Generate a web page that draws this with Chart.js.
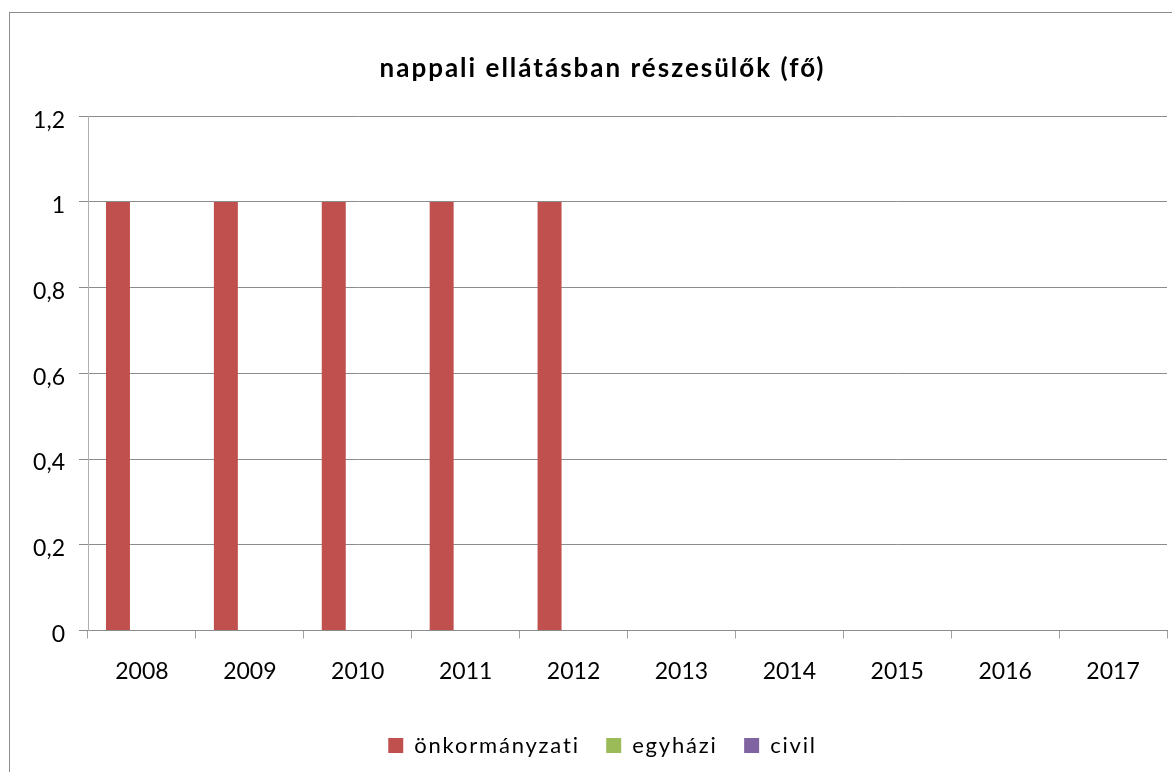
<!DOCTYPE html>
<html lang="hu">
<head>
<meta charset="utf-8">
<title>nappali ellátásban részesülők (fő)</title>
<script src="https://cdn.jsdelivr.net/npm/chart.js@4/dist/chart.umd.min.js"></script>
<style>
  html, body { margin: 0; padding: 0; background: #fff; overflow: hidden; }
  #wrap { position: relative; width: 1172px; height: 772px; }
</style>
</head>
<body>
<div id="wrap"><canvas id="chart"></canvas></div>
<script>
// évek és ellátotti létszámok fenntartó szerint
const years = ["2008", "2009", "2010", "2011", "2012", "2013", "2014", "2015", "2016", "2017"];
const onkormanyzati = [1, 1, 1, 1, 1, 0, 0, 0, 0, 0];
const egyhazi = [0, 0, 0, 0, 0, 0, 0, 0, 0, 0];
const civil = [0, 0, 0, 0, 0, 0, 0, 0, 0, 0];
const yTicks = [0, 0.2, 0.4, 0.6, 0.8, 1, 1.2];

const FONT = "Lato, Calibri, 'DejaVu Sans', sans-serif";

// keret a diagram körül
const frame = {
  id: "frame",
  beforeDraw(chart) {
    const ctx = chart.ctx;
    ctx.save();
    ctx.strokeStyle = "#8c8c8c";
    ctx.lineWidth = 1;
    ctx.strokeRect(9.5, 12.5, 1400, 1000);
    ctx.restore();
  }
};

// ritkított betűköz (és kis vízszintes eltolás) a címhez és a jelmagyarázathoz
function spaced(box, px, dx) {
  ["fit", "draw"].forEach(fn => {
    if (typeof box[fn] !== "function") return;
    const orig = box[fn].bind(box);
    box[fn] = function (...args) {
      const c = this.ctx;
      c.save();
      c.letterSpacing = px;
      if (fn === "draw") c.translate(dx, 0);
      const r = orig(...args);
      c.restore();
      return r;
    };
  });
}

const letterSpacing = {
  id: "letterSpacing",
  afterInit(chart) {
    if (chart.titleBlock) spaced(chart.titleBlock, "2px", 6);
    if (chart.legend) spaced(chart.legend, "1.8px", 6);
  }
};

new Chart(document.getElementById("chart"), {
  type: "bar",
  data: {
    labels: years,
    datasets: [
      { label: "önkormányzati", data: onkormanyzati, backgroundColor: "#C0504D" },
      { label: "egyházi", data: egyhazi, backgroundColor: "#9BBB59" },
      { label: "civil", data: civil, backgroundColor: "#8064A2" }
    ]
  },
  options: {
    responsive: true,
    maintainAspectRatio: false,
    animation: false,
    layout: { padding: { left: 26, right: 5, top: 0, bottom: 5.5 } },
    datasets: {
      bar: { categoryPercentage: 0.667, barPercentage: 1, borderWidth: 0 }
    },
    plugins: {
      title: {
        display: true,
        text: "nappali ellátásban részesülők (fő)",
        color: "#000",
        font: { family: FONT, size: 26, weight: "bold" },
        padding: { top: 53, bottom: 32 }
      },
      legend: {
        position: "bottom",
        labels: {
          color: "#000",
          font: { family: FONT, size: 22 },
          boxWidth: 15,
          boxHeight: 15,
          padding: 26.5
        }
      },
      tooltip: { enabled: false }
    },
    scales: {
      x: {
        grid: {
          display: true,
          drawOnChartArea: false,
          drawTicks: true,
          tickLength: 8,
          color: "#a0a0a0"
        },
        border: { color: "#8c8c8c" },
        ticks: {
          color: "#000",
          font: { family: FONT, size: 23 },
          padding: 19,
          maxRotation: 0
        },
        afterFit(scale) { scale.height = 77.5; }
      },
      y: {
        min: 0,
        max: 1.2,
        afterBuildTicks(scale) {
          scale.ticks = yTicks.map(v => ({ value: v }));
        },
        ticks: {
          color: "#000",
          font: { family: FONT, size: 23 },
          padding: 14,
          labelOffset: 4,
          callback: v => String(+Number(v).toFixed(1)).replace(".", ",")
        },
        grid: { color: "#8c8c8c", tickLength: 9 },
        border: { color: "#b0b0b0" },
        afterFit(scale) { scale.width = 62; }
      }
    }
  },
  plugins: [frame, letterSpacing]
});
</script>
</body>
</html>
